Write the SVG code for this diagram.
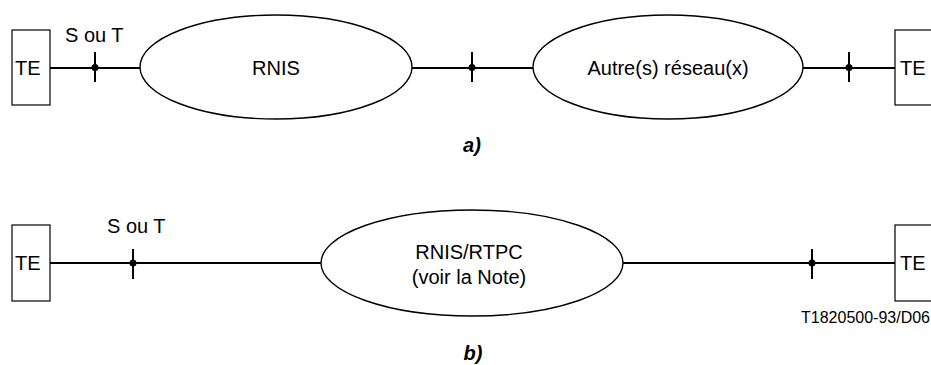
<svg xmlns="http://www.w3.org/2000/svg" width="931" height="365" viewBox="0 0 931 365">
<style>
text{font-family:"Liberation Sans",Arial,sans-serif;fill:#000}
.t{font-size:20px}
.c{text-anchor:middle}
.lab{font-size:20px;font-weight:bold;font-style:italic;text-anchor:middle}
.box{fill:#fff;stroke:#000;stroke-width:1.2}
.ell{fill:#fff;stroke:#000;stroke-width:1.4}
.ln{stroke:#000;stroke-width:2;fill:none}
.dot{fill:#000}
</style>
<g id="connectors">
<line class="ln" x1="50" y1="68" x2="140" y2="68"/>
<line class="ln" x1="412" y1="68" x2="533" y2="68"/>
<line class="ln" x1="803" y1="68" x2="895" y2="68"/>
<line class="ln" x1="50" y1="263" x2="321" y2="263"/>
<line class="ln" x1="623" y1="263" x2="895" y2="263"/>
</g>
<g id="ref-a1"><line class="ln" x1="95" y1="52" x2="95" y2="82"/><circle class="dot" cx="95" cy="67.5" r="3.5"/><text class="t" x="65" y="42">S ou T</text></g>
<g id="ref-a2"><line class="ln" x1="472" y1="52" x2="472" y2="82"/><circle class="dot" cx="472" cy="67.5" r="3.5"/></g>
<g id="ref-a3"><line class="ln" x1="849" y1="52" x2="849" y2="82"/><circle class="dot" cx="849" cy="67.5" r="3.5"/></g>
<g id="ref-b1"><line class="ln" x1="133" y1="249" x2="133" y2="279"/><circle class="dot" cx="133" cy="263" r="3.5"/><text class="t" x="107" y="233">S ou T</text></g>
<g id="ref-b2"><line class="ln" x1="812" y1="249" x2="812" y2="279"/><circle class="dot" cx="812" cy="263" r="3.5"/></g>
<g id="te-a-left"><rect class="box" x="12" y="30" width="38" height="75"/><text class="t" x="15" y="75">TE</text></g>
<g id="rnis-a"><ellipse class="ell" cx="276" cy="67" rx="136" ry="52"/><text class="t c" x="276" y="75">RNIS</text></g>
<g id="autres-a"><ellipse class="ell" cx="668" cy="67" rx="135" ry="52"/><text class="t c" x="668" y="75">Autre(s) réseau(x)</text></g>
<g id="te-a-right"><rect class="box" x="895" y="30" width="50" height="75"/><text class="t" x="900" y="75">TE</text></g>
<text class="lab" x="472" y="152">a)</text>
<g id="te-b-left"><rect class="box" x="12" y="225" width="38" height="76"/><text class="t" x="15" y="270">TE</text></g>
<g id="rnis-rtpc-b"><ellipse class="ell" cx="472" cy="263" rx="151" ry="53"/><text class="t c" x="469" y="259">RNIS/RTPC</text><text class="t c" x="469" y="284">(voir la Note)</text></g>
<g id="te-b-right"><rect class="box" x="895" y="225" width="50" height="76"/><text class="t" x="900" y="270">TE</text></g>
<text x="930" y="323" style="font-size:16px;text-anchor:end">T1820500-93/D06</text>
<text class="lab" x="473" y="360">b)</text>
</svg>
